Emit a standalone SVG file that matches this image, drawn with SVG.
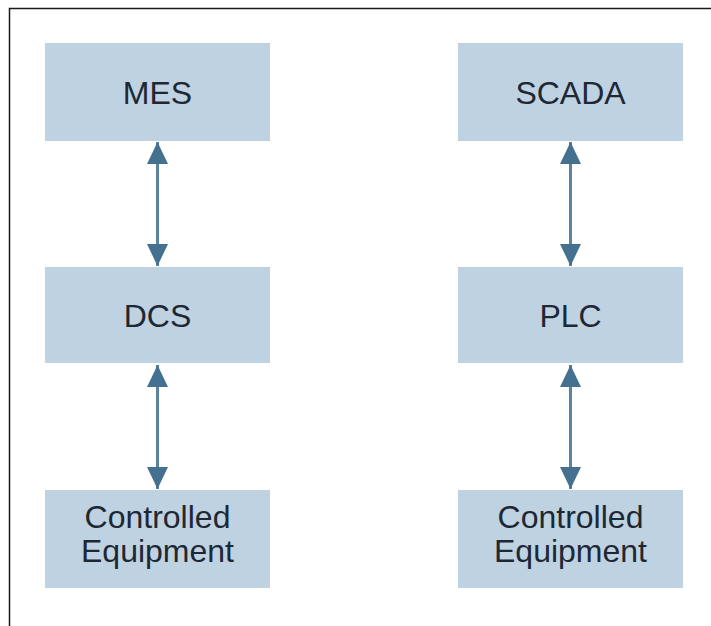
<svg xmlns="http://www.w3.org/2000/svg" width="711" height="626" viewBox="0 0 711 626">
<style>
.box{fill:#bfd2e2}
.lbl{font-family:"Liberation Sans",Arial,sans-serif;font-size:32px;fill:#1d2834;text-anchor:middle}
.conn{stroke:#5a83a0;stroke-width:3;fill:none;marker-start:url(#head);marker-end:url(#head)}
</style>
<defs>
<marker id="head" viewBox="0 0 24 21" refX="22" refY="10.5" markerWidth="24" markerHeight="21" markerUnits="userSpaceOnUse" orient="auto-start-reverse">
<path d="M0,0 L22,10.5 L0,21 Z" fill="#43718f"/>
</marker>
</defs>
<rect x="0" y="0" width="711" height="626" fill="#ffffff"/>
<path d="M9.5,626 L9.5,8.5 L711,8.5" fill="none" stroke="#1a1a1a" stroke-width="1.5"/>
<g id="mes"><rect class="box" x="45" y="43" width="225" height="98"/><text class="lbl" x="157.5" y="104">MES</text></g>
<g id="dcs"><rect class="box" x="45" y="267" width="225" height="96"/><text class="lbl" x="157.5" y="327">DCS</text></g>
<g id="ce-left"><rect class="box" x="45" y="490" width="225" height="98"/><text class="lbl" x="157.5" y="528">Controlled</text><text class="lbl" x="157.5" y="562">Equipment</text></g>
<g id="scada"><rect class="box" x="458" y="43" width="225" height="98"/><text class="lbl" x="570.5" y="104">SCADA</text></g>
<g id="plc"><rect class="box" x="458" y="267" width="225" height="96"/><text class="lbl" x="570.5" y="327">PLC</text></g>
<g id="ce-right"><rect class="box" x="458" y="490" width="225" height="98"/><text class="lbl" x="570.5" y="528">Controlled</text><text class="lbl" x="570.5" y="562">Equipment</text></g>
<g id="connectors">
<line class="conn" x1="157.5" y1="142" x2="157.5" y2="266"/>
<line class="conn" x1="157.5" y1="365" x2="157.5" y2="489"/>
<line class="conn" x1="570.5" y1="142" x2="570.5" y2="266"/>
<line class="conn" x1="570.5" y1="365" x2="570.5" y2="489"/>
</g>
</svg>
